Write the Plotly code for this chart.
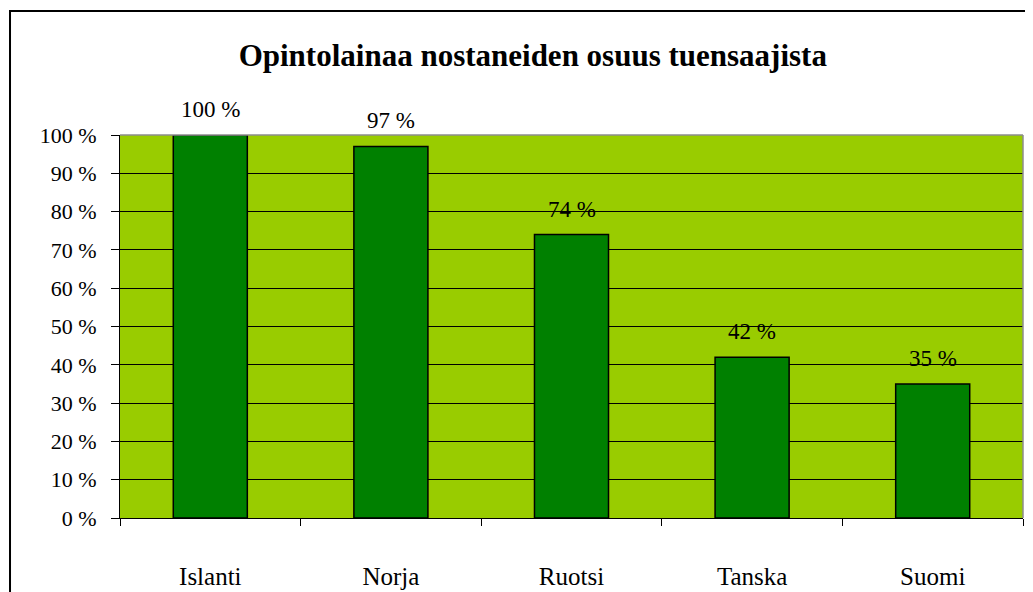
import plotly.graph_objects as go

# chart data
countries = ["Islanti", "Norja", "Ruotsi", "Tanska", "Suomi"]
shares = [100, 97, 74, 42, 35]
y_ticks = list(range(0, 101, 10))
y_tick_text = [f"{v} %" for v in y_ticks]

SERIF = '"Liberation Serif", "Times New Roman", serif'

fig = go.Figure(
    go.Bar(
        x=countries,
        y=shares,
        marker=dict(color="#008000", line=dict(color="black", width=1.5)),
        hoverinfo="skip",
    )
)

# value labels above bars
for c, v in zip(countries, shares):
    fig.add_annotation(
        x=c, y=v, text=f"{v} %", showarrow=False,
        yanchor="bottom", yshift=11,
        font=dict(family=SERIF, size=23, color="black"),
    )

# grey top/right plot-area border
fig.add_shape(type="line", xref="paper", yref="paper", x0=0, x1=1, y0=1, y1=1,
              line=dict(color="#8c8c8c", width=1.5))
fig.add_shape(type="line", xref="paper", yref="paper", x0=1, x1=1, y0=0, y1=1,
              line=dict(color="#8c8c8c", width=1.5))

# outer chart frame
fig.add_shape(type="rect", xref="paper", yref="paper",
              x0=-0.1218, x1=1.05, y0=-0.3, y1=1.3238,
              line=dict(color="black", width=2))

# page has an 8px body margin, so the figure starts at (8, 8)
fig.update_layout(
    width=1025,
    height=584,
    margin=dict(l=112, r=10, t=127, b=74, autoexpand=False),
    paper_bgcolor="white",
    plot_bgcolor="#99CC00",
    bargap=0.59,
    showlegend=False,
    title=dict(
        text="<b>Opintolainaa nostaneiden osuus tuensaajista</b>",
        x=0.512, xref="container", xanchor="center",
        y=0.9195, yref="container", yanchor="middle",
        font=dict(family=SERIF, size=31, color="black"),
    ),
    font=dict(family=SERIF, size=22, color="black"),
)

fig.update_xaxes(
    showgrid=False,
    showline=True, linecolor="black", linewidth=1,
    ticks="outside", tickson="boundaries", ticklen=7, tickcolor="black",
    tickfont=dict(family=SERIF, size=25, color="black"),
    ticklabelstandoff=36,
    automargin=False,
)
fig.update_yaxes(
    range=[0, 100],
    tickvals=y_ticks, ticktext=y_tick_text,
    showgrid=True, gridcolor="black", gridwidth=1,
    showline=True, linecolor="black", linewidth=1,
    ticks="outside", ticklen=8, tickcolor="black",
    tickfont=dict(family=SERIF, size=22, color="black"),
    ticklabelstandoff=10,
    zeroline=False,
    automargin=False,
)

fig.write_html("out.html")
